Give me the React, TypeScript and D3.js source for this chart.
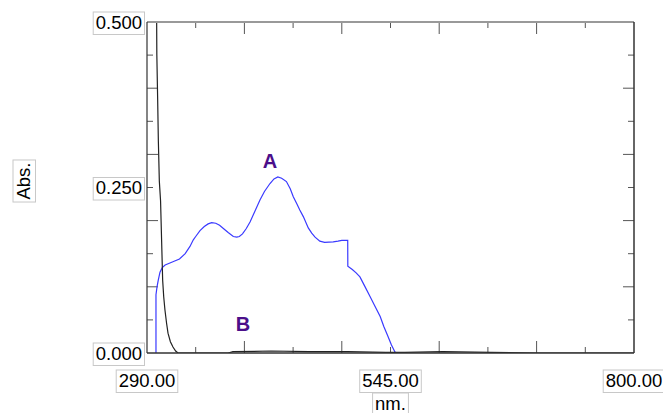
import React, { useEffect, useRef } from "react";
import * as d3 from "d3";

const xDomain: [number, number] = [290, 800];
const yDomain: [number, number] = [0, 0.5];
const yTickLabels = ["0.000", "0.250", "0.500"];
const yTickValues = [0, 0.25, 0.5];
const xTickLabels = ["290.00", "545.00", "800.00"];
const xTickValues = [290, 545, 800];

// Spectrum A (blue): [nm, Abs]
const seriesA: [number, number][] = [
  [299.4, 0], [299.4, 0.088], [300.5, 0.1], [301.8, 0.11], [303.6, 0.122], [306, 0.129],
  [309, 0.133], [314, 0.136], [319, 0.139], [324, 0.142], [330, 0.15], [335, 0.161],
  [338.5, 0.171], [341, 0.176], [345.5, 0.185], [350, 0.191], [354, 0.195], [357.7, 0.197],
  [362, 0.196], [366, 0.193], [370, 0.188], [375, 0.182], [380.4, 0.176], [384, 0.175],
  [386.7, 0.176], [390, 0.18], [394, 0.188], [397.9, 0.198], [403, 0.214], [408.3, 0.231],
  [413, 0.244], [418.8, 0.256], [423, 0.263], [427, 0.266], [431, 0.264], [436, 0.259],
  [440, 0.248], [443.2, 0.236], [447, 0.225], [450, 0.216], [453.7, 0.206], [458.9, 0.189],
  [462.5, 0.181], [466, 0.175], [471, 0.169], [476, 0.167], [485, 0.168], [490, 0.169],
  [494, 0.17], [500.2, 0.17], [500.3, 0.131], [505, 0.126], [509, 0.121], [513, 0.115],
  [518, 0.101], [523.7, 0.085], [529, 0.07], [534.2, 0.055], [538, 0.04], [542.4, 0.025],
  [546, 0.012], [549.5, 0.002], [550.5, 0],
];

// Spectrum B (black): [nm, Abs]
const seriesB: [number, number][] = [
  [300.0, 0.53], [300.3, 0.45], [301.2, 0.38], [301.9, 0.32], [302.9, 0.26], [304.2, 0.23],
  [305.3, 0.17], [306.4, 0.11], [307.5, 0.085], [308.8, 0.065], [310.5, 0.045], [312, 0.03],
  [314.5, 0.017], [317.2, 0.009], [320, 0.003], [322.5, 0], [375, 0], [380, 0.002],
  [420, 0.003], [460, 0.002], [500, 0.002], [540, 0.001], [560, 0.001], [600, 0.002],
  [650, 0.001], [700, 0], [800, 0],
];

const seriesLabels = ["A", "B"];

export default function App() {
  const ref = useRef<SVGSVGElement>(null);

  useEffect(() => {
    const svg = d3.select(ref.current);
    svg.selectAll("*").remove();
    const L = 147, R = 634, T = 22, B = 353;
    const x = d3.scaleLinear().domain(xDomain).range([L, R]);
    const y = d3.scaleLinear().domain(yDomain).range([B, T]);
    const font = "'Liberation Sans', Arial, sans-serif";

    svg.append("defs").append("clipPath").attr("id", "plotclip")
      .append("rect").attr("x", L).attr("y", T).attr("width", R - L).attr("height", B - T);

    // ticks
    const g = svg.append("g");
    const step = (xDomain[1] - xDomain[0]) / 10;
    for (let i = 1; i < 10; i++) {
      const v = xDomain[0] + i * step;
      const len = i % 2 === 0 ? 12 : 6;
      g.append("line").attr("x1", x(v)).attr("x2", x(v)).attr("y1", B).attr("y2", B - len)
        .attr("stroke", "#555").attr("stroke-width", 1);
      g.append("line").attr("x1", x(v)).attr("x2", x(v)).attr("y1", T).attr("y2", T + len)
        .attr("stroke", "#555").attr("stroke-width", 1);
    }
    for (let i = 1; i < 10; i++) {
      const v = i * 0.05;
      const len = i % 2 === 0 ? 11 : 6;
      g.append("line").attr("x1", L).attr("x2", L + len).attr("y1", y(v)).attr("y2", y(v))
        .attr("stroke", "#555").attr("stroke-width", 1);
      g.append("line").attr("x1", R).attr("x2", R - len).attr("y1", y(v)).attr("y2", y(v))
        .attr("stroke", "#555").attr("stroke-width", 1);
    }

    // curves
    const line = d3.line<[number, number]>().x((d) => x(d[0])).y((d) => y(d[1]));
    const cg = svg.append("g").attr("clip-path", "url(#plotclip)");
    cg.append("path").attr("d", line(seriesA) as string).attr("fill", "none")
      .attr("stroke", "#3a3aff").attr("stroke-width", 1.2);
    cg.append("path").attr("d", line(seriesB) as string).attr("fill", "none")
      .attr("stroke", "#222").attr("stroke-width", 1.2);

    // frame
    svg.append("line").attr("x1", L).attr("x2", R).attr("y1", T).attr("y2", T)
      .attr("stroke", "#999").attr("stroke-width", 2);
    svg.append("line").attr("x1", L).attr("x2", L).attr("y1", T).attr("y2", B)
      .attr("stroke", "#333").attr("stroke-width", 1.2);
    svg.append("line").attr("x1", R).attr("x2", R).attr("y1", T).attr("y2", B)
      .attr("stroke", "#333").attr("stroke-width", 1.5);
    svg.append("line").attr("x1", L).attr("x2", R).attr("y1", B).attr("y2", B)
      .attr("stroke", "#333").attr("stroke-width", 1.5);

    // boxed label helper
    const boxed = (txt: string, cx: number, cy: number, anchor: string, rotate = false) => {
      const grp = svg.append("g");
      if (rotate) grp.attr("transform", `translate(${cx},${cy}) rotate(-90)`);
      else grp.attr("transform", `translate(${cx},${cy})`);
      const rect = grp.append("rect");
      const t = grp.append("text").text(txt).attr("text-anchor", anchor)
        .attr("dominant-baseline", "central").attr("font-family", font)
        .attr("font-size", 18.5).attr("fill", "#000");
      const bb = (t.node() as SVGTextElement).getBBox();
      rect.attr("x", bb.x - 2.5).attr("y", bb.y + 0.5).attr("width", bb.width + 5)
        .attr("height", bb.height + 1.5).attr("fill", "#fff").attr("stroke", "#c8c8c8")
        .attr("stroke-width", 1);
    };

    yTickValues.forEach((v, i) => boxed(yTickLabels[i], 142, y(v), "end"));
    xTickValues.forEach((v, i) => boxed(xTickLabels[i], x(v), 380, "middle"));
    boxed("nm.", 390.5, 403, "middle");
    boxed("Abs.", 23, 181, "middle", true);

    // series labels
    svg.append("text").text(seriesLabels[0]).attr("x", 270).attr("y", 168)
      .attr("text-anchor", "middle").attr("font-family", font).attr("font-weight", "bold")
      .attr("font-size", 20).attr("fill", "#4b0f8a");
    svg.append("text").text(seriesLabels[1]).attr("x", 243).attr("y", 331)
      .attr("text-anchor", "middle").attr("font-family", font).attr("font-weight", "bold")
      .attr("font-size", 20).attr("fill", "#4b0f8a");
  }, []);

  return (
    <svg ref={ref} width={663} height={413}
      style={{ position: "fixed", left: 0, top: 0, background: "#fff" }} />
  );
}
